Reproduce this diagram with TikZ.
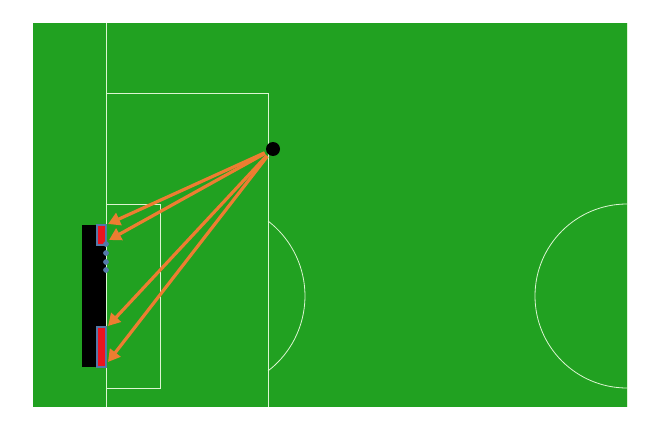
\documentclass[tikz,border=0pt]{standalone}
\usetikzlibrary{arrows.meta}
\definecolor{pitch}{RGB}{33,161,33}
\definecolor{chalk}{RGB}{220,245,210}
\definecolor{kick}{RGB}{237,125,49}
\definecolor{rim}{RGB}{84,120,168}
\definecolor{post}{RGB}{235,20,30}
\begin{document}
\begin{tikzpicture}[x=1pt,y=-1pt,
  markline/.style={draw=chalk,line width=0.8pt},
  kickarrow/.style={draw=kick,line width=3.2pt,-{Triangle[length=12pt,width=13pt]},shorten <=2pt},
  postbox/.style={draw=rim,line width=1.4pt,fill=post},
  netdot/.style={circle,draw=rim,fill=rim,line width=0.6pt,inner sep=0pt,minimum size=5pt},
  ballnode/.style={circle,fill=black,inner sep=0pt,minimum size=14pt}]
\useasboundingbox (0,0) rectangle (658,425);
\fill[white] (0,0) rectangle (658,425);
% pitch
\fill[pitch] (33,23) rectangle (627,407);
% markings
\draw[markline] (106,23) -- (106,407);
\draw[markline] (106,93) -- (268,93) -- (268,407);
\draw[markline] (106,204) -- (160,204) -- (160,388) -- (106,388);
\draw[markline] (268,221) arc[start angle=-52.5,end angle=52.5,radius=94.5] ;
\draw[markline] (627,23) -- (627,407);
\draw[markline] (627,204) arc[start angle=270,end angle=90,radius=92];
% goal
\fill[black] (82,225) rectangle (106,367);
\draw[postbox] (97,225) rectangle (106,245);
\draw[postbox] (97,327) rectangle (106,367);
\node[netdot] (n1) at (106,244) {};
\node[netdot] (n2) at (106,253) {};
\node[netdot] (n3) at (106,262) {};
\node[netdot] (n4) at (106,270) {};
% ball
\node[ballnode] (ball) at (273,149) {};
\coordinate (t1) at (108,224);
\coordinate (t2) at (109,240);
\coordinate (t3) at (108,326);
\coordinate (t4) at (108,362);
\draw[kickarrow] (ball) -- (t1);
\draw[kickarrow] (ball) -- (t2);
\draw[kickarrow] (ball) -- (t3);
\draw[kickarrow] (ball) -- (t4);
\end{tikzpicture}
\end{document}
